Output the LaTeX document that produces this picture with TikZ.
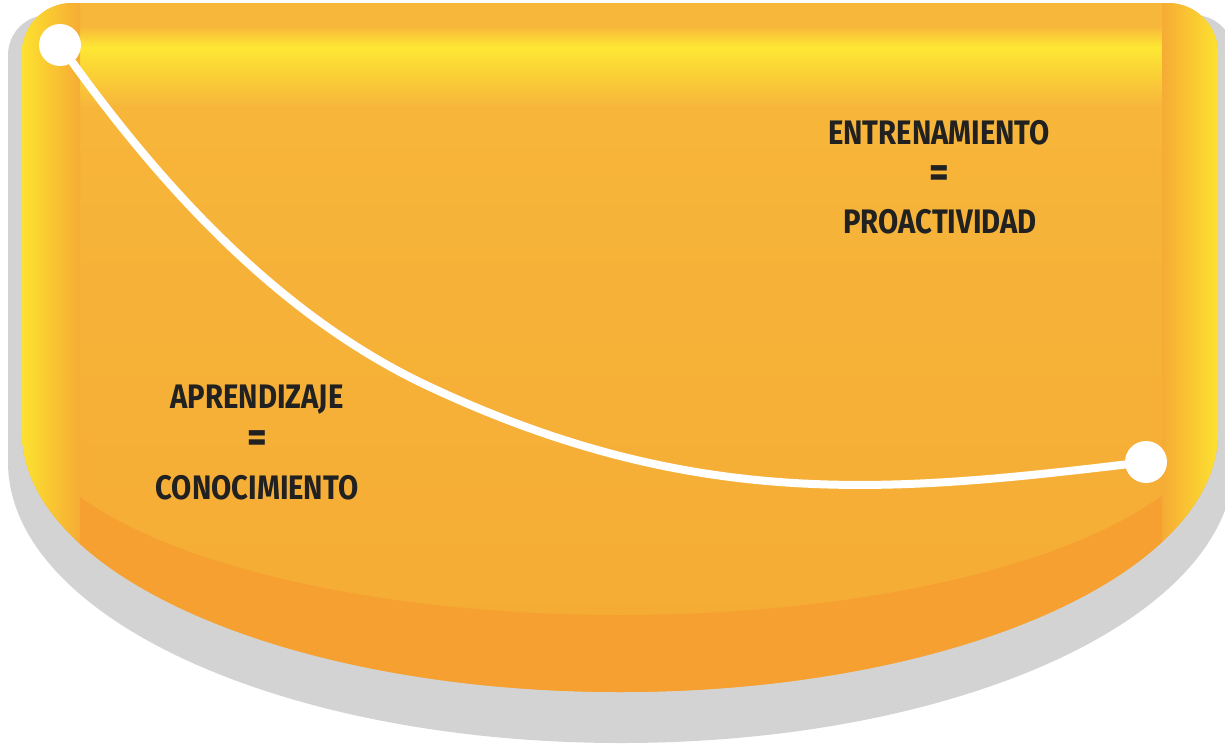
\documentclass[tikz,border=0pt]{standalone}
\usepackage{fontspec}
\newfontfamily\lblfont[FakeStretch=0.86]{Fira Sans}
\definecolor{shadowgray}{HTML}{D3D3D3}
\definecolor{bodytop}{HTML}{F7B73B}
\definecolor{bodybot}{HTML}{F5AB34}
\definecolor{glow}{HTML}{FEE733}
\definecolor{stripY}{HTML}{FDE22F}
\definecolor{stripO}{HTML}{F6AB35}
\definecolor{bandc}{HTML}{F5A031}
\definecolor{ink}{HTML}{222121}
\tikzset{
  grayshape/.style={insert path={(8,462) -- (8,55) arc[start angle=180,end angle=270,radius=40] -- (1194,15) arc[start angle=270,end angle=360,radius=40] -- (1234,462) arc[start angle=0,end angle=180,x radius=613,y radius=281] -- cycle}},
  orangeshape/.style={insert path={(22,432) -- (22,53) arc[start angle=180,end angle=270,radius=50] -- (1168,3) arc[start angle=270,end angle=360,radius=50] -- (1218,432) arc[start angle=0,end angle=180,x radius=598,y radius=260] -- cycle}},
  dot/.style={circle,fill=white,draw=none,minimum size=42pt,inner sep=0pt},
  curve/.style={white,line width=8pt},
  lbl/.style={inner sep=0pt,anchor=center,text=ink,font=\lblfont\bfseries\fontsize{34}{38}\selectfont},
  eq/.style={inner sep=0pt,anchor=center,text=ink,font=\lblfont\bfseries\fontsize{44}{48}\selectfont}
}
\begin{document}
\begin{tikzpicture}[x=1pt,y=-1pt]
\useasboundingbox (0,0) rectangle (1225,747);
% shadow
\fill[shadowgray] [grayshape];
% body
\shade[top color=bodytop,bottom color=bodybot] [orangeshape];
\begin{scope}
  \clip [orangeshape];
  % top glossy band
  \shade[top color=bodytop,bottom color=glow] (80,26) rectangle (1162,47);
  \shade[top color=glow,bottom color=bodytop] (80,47) rectangle (1162,105);
  % side strips
  \shade[left color=stripY,right color=stripO] (22,0) rectangle (80,747);
  \shade[left color=stripO,right color=stripY] (1162,0) rectangle (1218,747);
  % darker bottom band
  \begin{scope}
    \clip (80,0) rectangle (1162,747);
    \fill[bandc] (1218,408) arc[start angle=0,end angle=180,x radius=598,y radius=207] -- (22,747) -- (1218,747) -- cycle;
  \end{scope}
\end{scope}
% connector
\node[dot] (start) at (60,45) {};
\node[dot] (end) at (1146,462) {};
\coordinate (mid) at (428,386);
\draw[curve] (start.center) .. controls (150,172) and (270,311.7) .. (mid)
  .. controls (699.5,513.5) and (896,492) .. (end.center);
% labels
\node[lbl] (e1) at (939,133) {ENTRENAMIENTO};
\node[eq] (e2) at (939,177) {=};
\node[lbl] (e3) at (940,222) {PROACTIVIDAD};
\node[lbl] (a1) at (257,400) {APRENDIZAJE};
\node[eq] (a2) at (257,442) {=};
\node[lbl] (a3) at (257,488) {CONOCIMIENTO};
\end{tikzpicture}
\end{document}
